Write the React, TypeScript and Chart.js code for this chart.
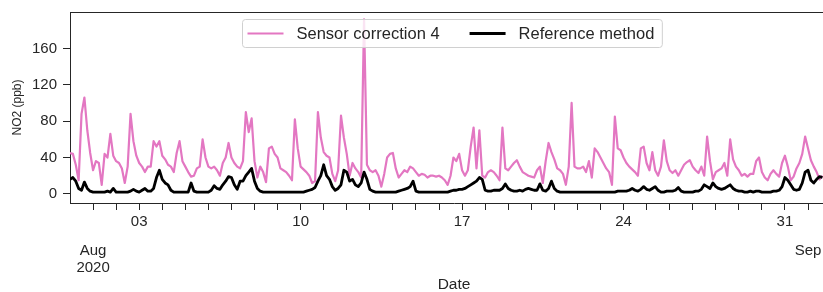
import { useEffect, useRef } from "react";
import { Chart, registerables } from "chart.js";

Chart.register(...registerables);

// Time step of the series (hours), starting 2020-07-31 00:00
const STEP_HOURS = 3;

// NO2 (ppb), "Sensor correction 4", one value every 3 hours from 31 Jul 2020
const sensorCorrection4 = [
  45, 44, 32, 15, 88, 106, 70, 45,
  26, 36, 34, 10, 44, 40, 66, 42,
  36, 34, 28, 12, 30, 88, 58, 42,
  34, 30, 24, 30, 30, 58, 52, 58,
  42, 38, 32, 30, 24, 45, 58, 36,
  30, 24, 19, 20, 28, 30, 60, 40,
  30, 28, 30, 26, 20, 34, 40, 56,
  40, 34, 30, 28, 36, 90, 68, 83,
  36, 18, 30, 24, 13, 50, 52, 44,
  40, 28, 26, 24, 20, 15, 82, 50,
  30, 27, 24, 20, 12, 14, 90, 62,
  46, 42, 40, 22, 14, 26, 86, 62,
  44, 20, 34, 28, 24, 18, 192, 32,
  26, 24, 26, 20, 8, 22, 40, 44,
  45, 28, 18, 22, 26, 24, 30, 28,
  24, 20, 22, 21, 18, 20, 20, 19,
  20, 18, 15, 10, 20, 40, 36, 44,
  26, 20, 26, 52, 73, 28, 70, 20,
  18, 24, 26, 24, 20, 15, 73, 28,
  26, 30, 34, 37, 30, 24, 22, 20,
  19, 18, 26, 30, 12, 36, 56, 46,
  38, 28, 26, 22, 10, 30, 100, 30,
  28, 28, 30, 24, 36, 18, 50, 46,
  40, 34, 28, 24, 10, 85, 50, 48,
  40, 34, 30, 27, 24, 20, 50, 52,
  34, 26, 46, 26, 20, 30, 59, 36,
  26, 23, 26, 20, 26, 32, 35, 37,
  30, 26, 23, 30, 20, 63, 36, 16,
  24, 26, 28, 34, 20, 60, 38, 30,
  26, 20, 22, 19, 22, 22, 36, 40,
  24, 18, 15, 22, 26, 22, 19, 34,
  42, 30, 15, 19, 28, 34, 44, 63,
  50, 37, 30, 24, 16, 20,
];

// NO2 (ppb), "Reference method", same timestamps
const referenceMethod = [
  16, 18, 14, 6, 4, 13, 6, 3,
  2, 2, 2, 2, 2, 3, 2, 6,
  2, 2, 2, 2, 2, 3, 5, 3,
  2, 4, 6, 3, 3, 6, 18, 26,
  16, 12, 10, 4, 2, 2, 2, 2,
  2, 2, 12, 3, 2, 2, 2, 2,
  2, 4, 9, 6, 5, 10, 14, 19,
  18, 10, 5, 14, 14, 20, 24, 28,
  14, 6, 3, 2, 2, 2, 2, 2,
  2, 2, 2, 2, 2, 2, 2, 2,
  2, 2, 3, 4, 5, 7, 14, 20,
  32, 20, 16, 8, 4, 6, 10, 26,
  24, 14, 16, 10, 8, 12, 24, 16,
  5, 3, 2, 2, 2, 2, 2, 2,
  2, 2, 3, 4, 5, 6, 8, 14,
  3, 2, 2, 2, 2, 2, 2, 2,
  2, 2, 2, 2, 3, 4, 4, 5,
  5, 6, 8, 10, 12, 14, 18, 16,
  4, 3, 3, 4, 4, 4, 6, 11,
  6, 4, 3, 3, 4, 3, 5, 6,
  5, 4, 4, 11, 4, 3, 6, 14,
  6, 3, 2, 2, 2, 2, 2, 2,
  2, 2, 2, 2, 2, 2, 2, 2,
  2, 2, 2, 2, 2, 2, 3, 3,
  3, 3, 4, 6, 4, 3, 5, 8,
  5, 4, 6, 8, 4, 2, 2, 3,
  3, 3, 4, 7, 3, 2, 2, 2,
  2, 3, 3, 5, 10, 8, 6, 12,
  8, 6, 5, 6, 8, 10, 6, 4,
  3, 3, 2, 2, 3, 2, 3, 3,
  2, 2, 2, 2, 3, 3, 4, 8,
  18, 15, 10, 5, 4, 5, 12, 24,
  26, 15, 12, 16, 19, 18,
];

const seriesLabels = ["Sensor correction 4", "Reference method"];

// x axis in days since 2020-07-31 00:00
const X_MIN_DAYS = 0;
const X_MAX_DAYS = 33.3;
const minorTickDays = Array.from({ length: 33 }, (_, i) => i + 1);
const dayTickDays = [3, 10, 17, 24, 31];
const dayTickLabels = ["03", "10", "17", "24", "31"];
const monthTickDays = [1, 32];
const monthTickLabels = [["Aug", "2020"], ["Sep"]];
const yTickValues = [0, 40, 80, 120, 160];

const PINK = "#e377c2";
const INK = "#262626";
const FONT = "'Liberation Sans', Arial, Helvetica, sans-serif";

const framePlugin = {
  id: "frame",
  afterDraw(chart: any) {
    const { ctx, chartArea } = chart;
    const { left, right, top, bottom } = chartArea;
    ctx.save();
    ctx.strokeStyle = INK;
    ctx.lineWidth = 1;
    const t = Math.round(top) + 0.5;
    const r = Math.round(right) - 0.5;
    ctx.beginPath();
    ctx.moveTo(left, t);
    ctx.lineTo(right, t);
    ctx.moveTo(r, top);
    ctx.lineTo(r, bottom);
    ctx.stroke();
    ctx.restore();
  },
};

const legendPlugin = {
  id: "boxLegend",
  afterDatasetsDraw(chart: any) {
    const { ctx, chartArea } = chart;
    const datasets = chart.data.datasets;
    ctx.save();
    ctx.font = `16.5px ${FONT}`;
    const sample = 36;
    const gapText = 13;
    const gapItem = 30;
    const padL = 5;
    const padR = 8;
    const h = 28;
    const widths = datasets.map((d: any) => ctx.measureText(d.label).width);
    let total = padL + padR;
    widths.forEach((w: number, i: number) => {
      total += sample + gapText + w + (i > 0 ? gapItem : 0);
    });
    const cx = (chartArea.left + chartArea.right) / 2 - 2;
    const x0 = Math.round(cx - total / 2) + 0.5;
    const y0 = Math.round(chartArea.top + 7) + 0.5;
    const rad = 3;
    ctx.beginPath();
    ctx.moveTo(x0 + rad, y0);
    ctx.lineTo(x0 + total - rad, y0);
    ctx.arcTo(x0 + total, y0, x0 + total, y0 + rad, rad);
    ctx.lineTo(x0 + total, y0 + h - rad);
    ctx.arcTo(x0 + total, y0 + h, x0 + total - rad, y0 + h, rad);
    ctx.lineTo(x0 + rad, y0 + h);
    ctx.arcTo(x0, y0 + h, x0, y0 + h - rad, rad);
    ctx.lineTo(x0, y0 + rad);
    ctx.arcTo(x0, y0, x0 + rad, y0, rad);
    ctx.closePath();
    ctx.fillStyle = "rgba(255,255,255,0.8)";
    ctx.fill();
    ctx.strokeStyle = "#d0d0d0";
    ctx.lineWidth = 1;
    ctx.stroke();

    const cy = y0 + h / 2;
    let x = x0 + padL;
    datasets.forEach((d: any, i: number) => {
      if (i > 0) x += gapItem;
      ctx.beginPath();
      ctx.strokeStyle = d.borderColor;
      ctx.lineWidth = d.borderWidth;
      ctx.moveTo(x, cy);
      ctx.lineTo(x + sample, cy);
      ctx.stroke();
      x += sample + gapText;
      ctx.fillStyle = INK;
      ctx.textBaseline = "middle";
      ctx.textAlign = "left";
      ctx.fillText(d.label, x, cy + 1);
      x += widths[i];
    });
    ctx.restore();
  },
};

export default function App() {
  const canvasRef = useRef<HTMLCanvasElement | null>(null);

  useEffect(() => {
    document.body.style.margin = "0";
    const canvas = canvasRef.current;
    if (!canvas) return;
    const toPoints = (arr: number[]) =>
      arr.map((v, i) => ({ x: (i * STEP_HOURS) / 24, y: v }));

    const chart = new Chart(canvas, {
      type: "line",
      data: {
        datasets: [
          {
            label: seriesLabels[0],
            data: toPoints(sensorCorrection4),
            borderColor: PINK,
            backgroundColor: PINK,
            borderWidth: 2.2,
            pointRadius: 0,
            tension: 0,
            borderJoinStyle: "round",
            order: 2,
          },
          {
            label: seriesLabels[1],
            data: toPoints(referenceMethod),
            borderColor: "#000000",
            backgroundColor: "#000000",
            borderWidth: 2.8,
            pointRadius: 0,
            tension: 0,
            borderJoinStyle: "round",
            order: 1,
          },
        ],
      },
      options: {
        animation: false,
        responsive: false,
        devicePixelRatio: 1,
        layout: { padding: { top: 12, right: 7, left: 0, bottom: 0 } },
        plugins: {
          legend: { display: false },
          tooltip: { enabled: false },
        },
        scales: {
          x: {
            type: "linear",
            position: "bottom",
            weight: 0,
            min: X_MIN_DAYS,
            max: X_MAX_DAYS,
            afterBuildTicks: (s: any) => {
              s.ticks = minorTickDays.map((v) => ({ value: v }));
            },
            afterFit: (s: any) => {
              s.height = 32;
              s.paddingLeft = 0;
              s.paddingRight = 0;
            },
            ticks: {
              autoSkip: false,
              maxRotation: 0,
              minRotation: 0,
              padding: 3,
              color: INK,
              font: { family: FONT, size: 15 },
              callback: (v: any) => {
                const k = dayTickDays.indexOf(Math.round(Number(v)));
                return k >= 0 ? dayTickLabels[k] : "";
              },
            },
            grid: {
              drawOnChartArea: false,
              drawTicks: true,
              tickLength: 7,
              tickColor: INK,
              tickWidth: 1,
            },
            border: { display: true, color: INK, width: 1 },
          },
          x2: {
            type: "linear",
            position: "bottom",
            weight: 1,
            min: X_MIN_DAYS,
            max: X_MAX_DAYS,
            afterBuildTicks: (s: any) => {
              s.ticks = monthTickDays.map((v) => ({ value: v }));
            },
            afterFit: (s: any) => {
              s.height = 57;
              s.paddingLeft = 0;
              s.paddingRight = 0;
            },
            ticks: {
              autoSkip: false,
              maxRotation: 0,
              minRotation: 0,
              padding: 7,
              color: INK,
              font: { family: FONT, size: 15, lineHeight: 1.13 },
              callback: (v: any) => {
                const k = monthTickDays.indexOf(Math.round(Number(v)));
                return k >= 0 ? (monthTickLabels[k] as any) : "";
              },
            },
            grid: { display: false, drawTicks: false, drawOnChartArea: false },
            border: { display: false },
            title: {
              display: true,
              text: "Date",
              color: INK,
              font: { family: FONT, size: 15.5, lineHeight: 1 },
              padding: { top: 0, bottom: 0 },
            },
          },
          y: {
            type: "linear",
            min: -10,
            max: 200,
            afterBuildTicks: (s: any) => {
              s.ticks = yTickValues.map((v) => ({ value: v }));
            },
            afterFit: (s: any) => {
              s.width = 70;
              s.paddingTop = 0;
              s.paddingBottom = 0;
            },
            ticks: {
              padding: 6,
              color: INK,
              font: { family: FONT, size: 15 },
            },
            grid: {
              drawOnChartArea: false,
              drawTicks: true,
              tickLength: 7,
              tickColor: INK,
              tickWidth: 1,
            },
            border: { display: true, color: INK, width: 1 },
            title: {
              display: true,
              text: "NO2 (ppb)",
              color: INK,
              font: { family: FONT, size: 12 },
              padding: { top: 10, bottom: 4 },
            },
          },
        },
      },
      plugins: [framePlugin, legendPlugin],
    });
    return () => chart.destroy();
  }, []);

  return (
    <div style={{ width: 823, height: 292, overflow: "hidden", background: "#ffffff" }}>
      <canvas ref={canvasRef} width={845} height={292} style={{ display: "block" }} />
    </div>
  );
}
